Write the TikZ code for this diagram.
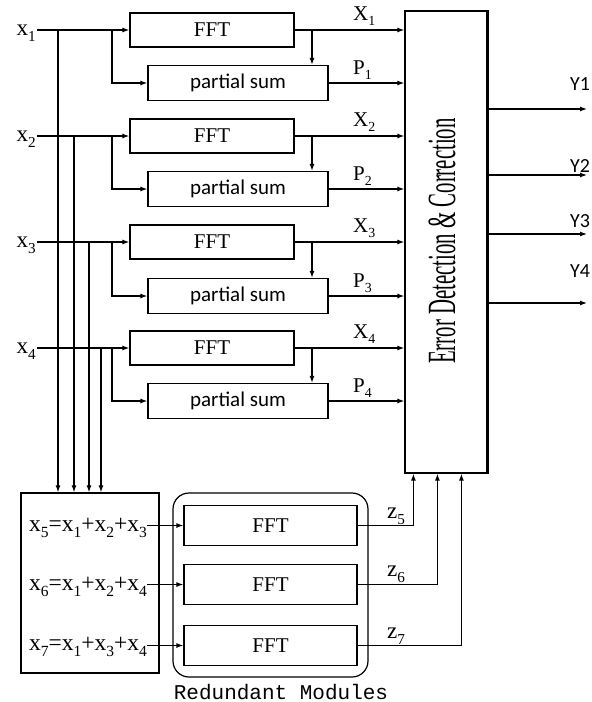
\documentclass[tikz,border=0pt]{standalone}
\usepackage{fontspec}
\setmainfont{Liberation Serif}
\newfontfamily\sansf{Carlito}
\newfontfamily\monof{Liberation Mono}
\usetikzlibrary{arrows.meta}
\newcommand\fsz[1]{\fontsize{#1}{#1}\selectfont}
\newcommand\lsub[1]{\raisebox{-0.28em}{\scalebox{0.66}{#1}}}
\tikzset{
  ln/.style={line width=1.2pt},
  arr/.style={ln,-{Latex[length=7pt,width=5pt]}},
  fftbox/.style={draw,ln,inner sep=0pt,minimum width=164pt,minimum height=34pt,font=\fsz{21}},
  psbox/.style={draw,ln,inner sep=0pt,minimum width=180pt,minimum height=35pt,font=\sansf\fsz{21}},
  rbox/.style={draw,ln,inner sep=0pt,minimum width=173pt,minimum height=40pt,font=\fsz{21}},
  lab/.style={inner sep=0pt,anchor=base west,font=\fsz{21}},
  inlab/.style={inner sep=1pt,anchor=base east,font=\fsz{23}},
  ylab/.style={inner sep=0pt,anchor=base west,font=\sansf\fsz{20}},
  eqlab/.style={inner sep=0pt,anchor=base east,font=\fsz{23.5}},
}
\begin{document}
\begin{tikzpicture}[x=1pt,y=-1pt]
\useasboundingbox (0,0) rectangle (592,702);
% main rows
\node[fftbox] (f1) at (212,30) {FFT};
\node[psbox] (p1) at (238,83) {partial sum};
\node[fftbox] (f2) at (212,136) {FFT};
\node[psbox] (p2) at (238,189) {partial sum};
\node[fftbox] (f3) at (212,242) {FFT};
\node[psbox] (p3) at (238,296) {partial sum};
\node[fftbox] (f4) at (212,348) {FFT};
\node[psbox] (p4) at (238,401) {partial sum};
% error detection box
\node[draw,ln,inner sep=0pt,minimum width=82pt,minimum height=462pt] (ed) at (446,242) {};
\draw[line width=3.2pt] (ed.north east) -- (ed.south east);
\node[rotate=90,inner sep=0pt,font=\fsz{40}] (edt) at (442,241) {\scalebox{0.52}[1]{Error Detection \& Correction}};
% inputs
\node[inlab] (in1) at (37,35) {x\lsub{1}};
\node[inlab] (in2) at (37,141) {x\lsub{2}};
\node[inlab] (in3) at (37,247) {x\lsub{3}};
\node[inlab] (in4) at (37,353) {x\lsub{4}};
% branch coordinates
\coordinate (b1) at (112,30);
\coordinate (b2) at (112,136);
\coordinate (b3) at (112,242);
\coordinate (b4) at (112,348);
\coordinate (o1) at (312,30);
\coordinate (o2) at (312,136);
\coordinate (o3) at (312,242);
\coordinate (o4) at (312,348);
\coordinate (v1) at (58,30);
\coordinate (v2) at (74,136);
\coordinate (v3) at (89,242);
\coordinate (v4) at (101,348);
% sum box
\node[draw,ln,inner sep=0pt,minimum width=138pt,minimum height=180pt] (sb) at (90,583) {};
% input lines
\foreach \i in {1,2,3,4}{
  \draw[arr] (in\i.east |- f\i.west) -- (f\i.west);
  \draw[arr] (b\i) |- (p\i.west);
  \draw[arr] (f\i.east) -- (f\i.east -| ed.west);
  \draw[arr] (o\i) -- (o\i |- p\i.north);
  \draw[arr] (p\i.east) -- (p\i.east -| ed.west);
  \draw[arr] (v\i) -- (v\i |- sb.north);
}
% X and P labels
\node[lab] (lx1) at (353,20) {X\lsub{1}};
\node[lab] (lp1) at (353,74) {P\lsub{1}};
\node[lab] (lx2) at (353,126) {X\lsub{2}};
\node[lab] (lp2) at (353,180) {P\lsub{2}};
\node[lab] (lx3) at (353,232) {X\lsub{3}};
\node[lab] (lp3) at (353,287) {P\lsub{3}};
\node[lab] (lx4) at (353,338) {X\lsub{4}};
\node[lab] (lp4) at (353,392) {P\lsub{4}};
% outputs
\coordinate (y1s) at (487,109);
\coordinate (y2s) at (487,175);
\coordinate (y3s) at (487,234);
\coordinate (y4s) at (487,303);
\coordinate (y1e) at (587,109);
\coordinate (y2e) at (587,175);
\coordinate (y3e) at (587,234);
\coordinate (y4e) at (587,303);
\foreach \i in {1,2,3,4}{
  \draw[arr] (y\i s) -- (y\i e);
}
\node[ylab] (ly1) at (570,90) {Y1};
\node[ylab] (ly2) at (570,172) {Y2};
\node[ylab] (ly3) at (570,227) {Y3};
\node[ylab] (ly4) at (570,277) {Y4};
% redundant modules
\node[draw,ln,inner sep=0pt,rounded corners=16pt,minimum width=195pt,minimum height=184pt] (rm) at (270.5,585) {};
\node[rbox] (r5) at (270.5,525.5) {FFT};
\node[rbox] (r6) at (270.5,584.5) {FFT};
\node[rbox] (r7) at (270.5,645.5) {FFT};
\node[inner sep=0pt,anchor=base,font=\monof\fsz{21}] (rml) at (281,699) {Redundant Modules};
% equations
\node[eqlab] (e5) at (147,531) {x\lsub{5}=x\lsub{1}+x\lsub{2}+x\lsub{3}};
\node[eqlab] (e6) at (147,590) {x\lsub{6}=x\lsub{1}+x\lsub{2}+x\lsub{4}};
\node[eqlab] (e7) at (147,650) {x\lsub{7}=x\lsub{1}+x\lsub{3}+x\lsub{4}};
\draw[arr] (e5.east |- r5.west) -- (r5.west);
\draw[arr] (e6.east |- r6.west) -- (r6.west);
\draw[arr] (e7.east |- r7.west) -- (r7.west);
% z outputs
\draw[arr] (r5.east) -| ([xshift=9pt]ed.south west);
\draw[arr] (r6.east) -| ([xshift=33pt]ed.south west);
\draw[arr] (r7.east) -| ([xshift=57pt]ed.south west);
\node[lab,font=\fsz{23}] (lz5) at (387,518) {z\lsub{5}};
\node[lab,font=\fsz{23}] (lz6) at (387,576) {z\lsub{6}};
\node[lab,font=\fsz{23}] (lz7) at (387,638) {z\lsub{7}};
\end{tikzpicture}
\end{document}
